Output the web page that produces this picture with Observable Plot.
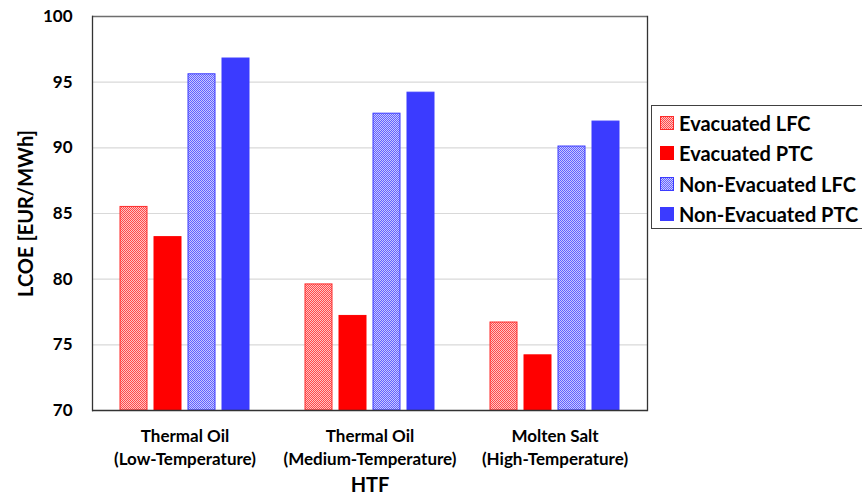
<!DOCTYPE html>
<html><head><meta charset="utf-8">
<script src="https://cdn.jsdelivr.net/npm/d3@7"></script>
<script src="https://cdn.jsdelivr.net/npm/@observablehq/plot@0.6"></script>
<style>
body{margin:0;background:#fff;font-family:Lato,sans-serif}
#wrap{position:relative;width:862px;height:497px;overflow:hidden}
#legend{position:absolute;left:651px;top:105px;width:240px;height:124px;border:1px solid #404040;box-sizing:border-box;background:#fff;padding-top:2px;padding-left:8px}
.item{display:flex;align-items:center;height:30.3px;font-weight:bold;font-size:20px;color:#000;white-space:nowrap}
.item svg{margin-right:5px;flex:none}
</style>
</head><body>
<div id="wrap"><div id="chart"></div><div id="legend"></div></div>
<script>
const htfLabels = ["Thermal Oil\n(Low-Temperature)", "Thermal Oil\n(Medium-Temperature)", "Molten Salt\n(High-Temperature)"];
const series = ["Evacuated LFC", "Evacuated PTC", "Non-Evacuated LFC", "Non-Evacuated PTC"];
const evacuatedLFC = [85.5, 79.6, 76.7];
const evacuatedPTC = [83.2, 77.2, 74.2];
const nonEvacuatedLFC = [95.6, 92.6, 90.1];
const nonEvacuatedPTC = [96.8, 94.2, 92.0];
const yTicks = [70, 75, 80, 85, 90, 95, 100];

const seriesValues = [evacuatedLFC, evacuatedPTC, nonEvacuatedLFC, nonEvacuatedPTC];
const rows = [];
htfLabels.forEach((h, i) => series.forEach((s, j) => rows.push({htf: h, series: s, value: seriesValues[j][i]})));

const fills = {"Evacuated LFC": "url(#patRed)", "Evacuated PTC": "#ff0000", "Non-Evacuated LFC": "url(#patBlue)", "Non-Evacuated PTC": "#3b3bff"};
const strokes = {"Evacuated LFC": "#ff2a2a", "Evacuated PTC": "#ff0000", "Non-Evacuated LFC": "#3b3bff", "Non-Evacuated PTC": "#3b3bff"};

const chart = Plot.plot({
  width: 862, height: 497,
  marginLeft: 92, marginRight: 215, marginTop: 16, marginBottom: 87,
  style: {fontFamily: "Lato, sans-serif", color: "#000", background: "transparent"},
  fx: {domain: htfLabels, padding: 0},
  x: {domain: series, paddingInner: 0.2, paddingOuter: 0.82, axis: null},
  y: {domain: [yTicks[0], yTicks[yTicks.length - 1]]},
  marks: [
    Plot.gridY(yTicks.slice(1, -1), {stroke: "#d9d9d9", strokeOpacity: 1, strokeWidth: 1.2}),
    Plot.barY(rows, {fx: "htf", x: "series", y1: yTicks[0], y2: "value", fill: d => fills[d.series], stroke: d => strokes[d.series], strokeWidth: 1}),
    Plot.ruleY([yTicks[0]], {stroke: "#333", strokeWidth: 1.3}),
    Plot.ruleY([yTicks[yTicks.length - 1]], {stroke: "#6e6e6e", strokeWidth: 1.6}),
    Plot.frame({anchor: "left", facetAnchor: "left", stroke: "#333", strokeWidth: 1.3}),
    Plot.frame({anchor: "right", facetAnchor: "right", stroke: "#333", strokeWidth: 1.3}),
    Plot.axisY(yTicks, {tickSize: 0, tickPadding: 20, fontSize: 17, fontWeight: "bold", label: null}),
    Plot.axisY([], {label: "LCOE [EUR/MWh]", labelArrow: "none", labelAnchor: "center", labelOffset: 74, fontSize: 20, fontWeight: "bold"}),
    Plot.axisFx({anchor: "bottom", tickSize: 0, tickPadding: 15, fontSize: 17, fontWeight: "bold", lineHeight: 1.35, label: null}),
    Plot.axisFx([], {anchor: "bottom", label: "HTF", labelArrow: "none", labelAnchor: "center", labelOffset: 81, fontSize: 20, fontWeight: "bold"})
  ]
});

const svgns = "http://www.w3.org/2000/svg";
const defs = document.createElementNS(svgns, "defs");
defs.innerHTML =
  '<pattern id="patRed" width="2" height="2" patternUnits="userSpaceOnUse"><rect width="2" height="2" fill="#ffc4c4"/><rect width="1" height="1" fill="#ff4a4a"/><rect x="1" y="1" width="1" height="1" fill="#ff4a4a"/></pattern>' +
  '<pattern id="patBlue" width="2" height="2" patternUnits="userSpaceOnUse"><rect width="2" height="2" fill="#c8c8ff"/><rect width="1" height="1" fill="#6262ff"/><rect x="1" y="1" width="1" height="1" fill="#6262ff"/></pattern>';
chart.prepend(defs);
document.getElementById("chart").appendChild(chart);

const legend = document.getElementById("legend");
series.forEach(s => {
  const item = document.createElement("div");
  item.className = "item";
  item.innerHTML = `<svg width="14" height="14"><rect x="0.5" y="0.5" width="13" height="13" fill="${fills[s]}" stroke="${strokes[s]}" stroke-width="1"/></svg><span>${s}</span>`;
  legend.appendChild(item);
});
</script>
</body></html>
